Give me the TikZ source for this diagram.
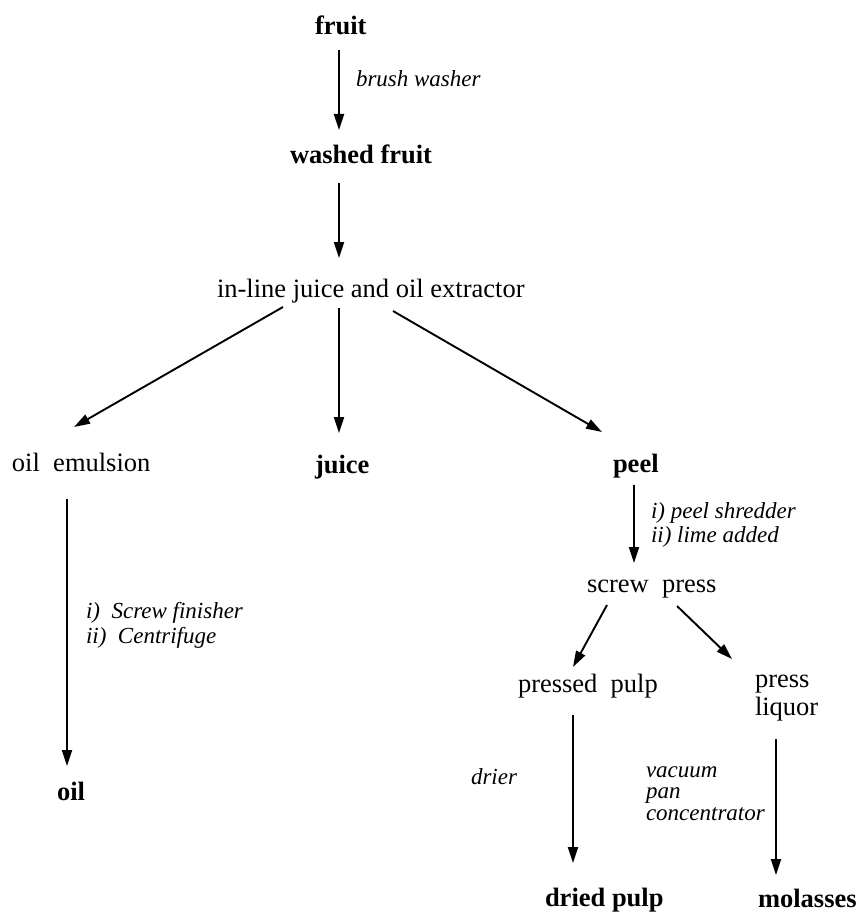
\documentclass[tikz,border=0pt]{standalone}
\usepackage{fontspec}
\setmainfont{Liberation Serif}
\usetikzlibrary{arrows.meta}
\begin{document}
\begin{tikzpicture}[x=1pt,y=-1pt,
  txt/.style={anchor=base west,inner sep=0pt,outer sep=0pt,font=\fontsize{26.5}{28}\selectfont},
  btxt/.style={txt,font=\fontsize{26.5}{28}\selectfont\bfseries},
  lbl/.style={anchor=base west,inner sep=0pt,outer sep=0pt,font=\fontsize{23}{24}\selectfont\itshape},
  arr/.style={line width=1.9pt,-{Triangle[length=16pt,width=10pt]}}]
\useasboundingbox (0,0) rectangle (861,912);
% nodes
\node[btxt] (fruit) at (315,35) {fruit};
\node[lbl] (brush) at (356,87) {brush washer};
\node[btxt] (washed) at (290,164) {washed fruit};
\node[txt] (extr) at (217,297) {in-line juice and oil extractor};
\node[txt] (emul) at (12,471) {oil\ \ emulsion};
\node[btxt] (juice) at (315,473) {juice};
\node[btxt] (peel) at (613,472) {peel};
\node[lbl] (peellbl) at (651,518) {\fontsize{23}{24}\selectfont\begin{tabular}[t]{@{}l@{}}i) peel shredder\\ii) lime added\end{tabular}};
\node[txt] (screw) at (587,592) {screw\ \ press};
\node[lbl] (oillbl) at (86,618) {\fontsize{23}{25}\selectfont\begin{tabular}[t]{@{}l@{}}i)\ \ Screw finisher\\ii)\ \ Centrifuge\end{tabular}};
\node[txt] (pulp) at (518,692) {pressed\ \ pulp};
\node[txt] (liquor) at (755,687) {\fontsize{26.5}{28}\selectfont\begin{tabular}[t]{@{}l@{}}press\\liquor\end{tabular}};
\node[lbl] (drier) at (471,784) {drier};
\node[lbl] (vac) at (646,777) {\fontsize{23}{21.5}\selectfont\begin{tabular}[t]{@{}l@{}}vacuum\\pan\\concentrator\end{tabular}};
\node[btxt] (oil) at (57,800) {oil};
\node[btxt] (dried) at (545,906) {dried pulp};
\node[btxt] (mol) at (758,907) {molasses};
% connector ends
\coordinate (fruit-o) at (339,50);  \coordinate (washed-i) at (339,130);
\coordinate (washed-o) at (339,183); \coordinate (extr-i) at (339,258);
\coordinate (extr-l) at (283,307);  \coordinate (emul-i) at (74,427);
\coordinate (extr-m) at (339,308);  \coordinate (juice-i) at (339,433);
\coordinate (extr-r) at (393,311);  \coordinate (peel-i) at (602,432);
\coordinate (emul-o) at (67,499);   \coordinate (oil-i) at (67,766);
\coordinate (peel-o) at (634,485);  \coordinate (screw-i) at (634,563);
\coordinate (screw-l) at (607,605); \coordinate (pulp-i) at (573,667);
\coordinate (screw-r) at (677,606); \coordinate (liquor-i) at (732,659);
\coordinate (pulp-o) at (573,715);  \coordinate (dried-i) at (573,863);
\coordinate (liquor-o) at (776,739); \coordinate (mol-i) at (776,875);
% connectors
\draw[arr] (fruit-o) -- (washed-i);
\draw[arr] (washed-o) -- (extr-i);
\draw[arr] (extr-l) -- (emul-i);
\draw[arr] (extr-m) -- (juice-i);
\draw[arr] (extr-r) -- (peel-i);
\draw[arr] (emul-o) -- (oil-i);
\draw[arr] (peel-o) -- (screw-i);
\draw[arr] (screw-l) -- (pulp-i);
\draw[arr] (screw-r) -- (liquor-i);
\draw[arr] (pulp-o) -- (dried-i);
\draw[arr] (liquor-o) -- (mol-i);
\end{tikzpicture}
\end{document}
